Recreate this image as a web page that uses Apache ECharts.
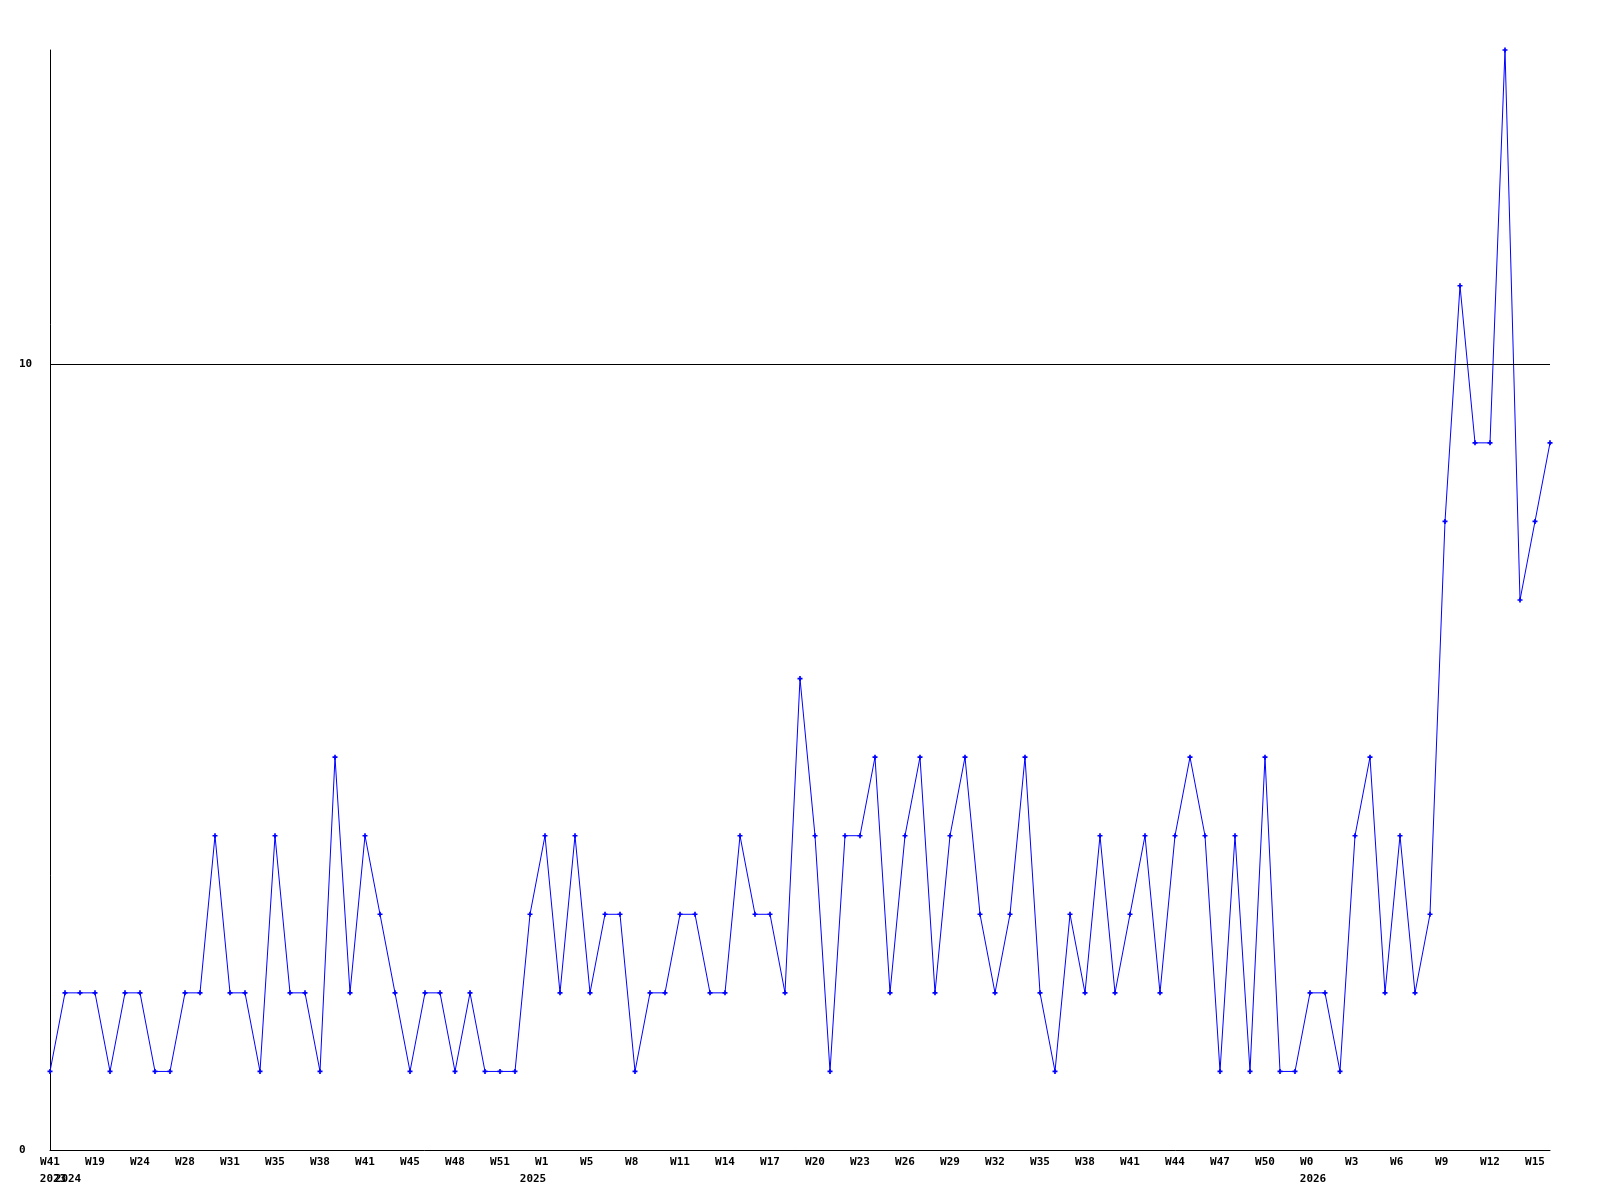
<!DOCTYPE html>
<html>
<head>
<meta charset="utf-8">
<script src="https://cdn.jsdelivr.net/npm/echarts@6/dist/echarts.min.js"></script>
<style>
html,body{margin:0;padding:0;background:#fff;}
#chart{width:1600px;height:1200px;}
</style>
</head>
<body>
<div id="chart"></div>
<script>
// Weekly values, one per point (101 points)
const values = [1,2,2,2,1,2,2,1,1,2,2,4,2,2,1,4,2,2,1,5,
                2,4,3,2,1,2,2,1,2,1,1,1,3,4,2,4,2,3,3,1,
                2,2,3,3,2,2,4,3,3,2,6,4,1,4,4,5,2,4,5,2,
                4,5,3,2,3,5,2,1,3,2,4,2,3,4,2,4,5,4,1,4,
                1,5,1,1,2,2,1,4,5,2,4,2,3,8,11,9,9,14,7,8,9];
// Week tick labels, shown on every third point
const weekLabels = ['W41','W19','W24','W28','W31','W35','W38','W41','W45','W48','W51',
                    'W1','W5','W8','W11','W14','W17','W20','W23','W26','W29','W32','W35',
                    'W38','W41','W44','W47','W50','W0','W3','W6','W9','W12','W15'];
const weekLabelStep = 3;
// Year labels and the point index they sit under
const yearLabels = ['2023','2024','2025','2026'];
const yearLabelIndex = [0,1,32,84];
const yTickLabels = [0, 10];

const categories = values.map((v, i) => String(i));
const font = 'DejaVu Sans Mono';

function weekAt(i){ return i % weekLabelStep === 0 ? (weekLabels[i / weekLabelStep] || '') : ''; }
function yearAt(i){ const k = yearLabelIndex.indexOf(i); return k >= 0 ? yearLabels[k] : ''; }

const txt = {fontFamily: font, fontWeight: 'bold', fontSize: 11, color: '#000', lineHeight: 17};

const chart = echarts.init(document.getElementById('chart'), null, {renderer:'canvas'});
chart.setOption({
  animation: false,
  backgroundColor: '#ffffff',
  grid: {left: 50, right: 50, top: 50, bottom: 50, containLabel: false},
  xAxis: [{
    type: 'category',
    data: categories,
    boundaryGap: false,
    axisLine: {show: true, lineStyle: {color: '#000', width: 1}},
    axisTick: {show: false},
    splitLine: {show: false},
    axisLabel: {
      interval: function(i){ return weekAt(i) !== ''; },
      showMinLabel: true,
      showMaxLabel: true,
      hideOverlap: false,
      margin: 4,
      align: 'center',
      formatter: function(v, i){
        let w = weekAt(i); while (w.length < 3) w += ' ';
        const y = yearAt(i) || ' ';
        return '{w|' + w + '}\n{y|' + y + '}';
      },
      rich: {
        w: Object.assign({}, txt),
        y: Object.assign({padding: [0,0,0,6]}, txt)
      }
    }
  }, {
    type: 'category',
    data: categories,
    boundaryGap: false,
    position: 'bottom',
    gridIndex: 0,
    axisLine: {show: false},
    axisTick: {show: false},
    splitLine: {show: false},
    axisLabel: {
      interval: function(i){ return weekAt(i) === '' && yearAt(i) !== ''; },
      showMinLabel: true,
      showMaxLabel: true,
      hideOverlap: false,
      margin: 21,
      align: 'center',
      formatter: function(v, i){ return '{y|' + yearAt(i) + '}'; },
      rich: { y: Object.assign({padding: [0,0,0,6]}, txt) }
    }
  }],
  yAxis: {
    type: 'value',
    min: 0,
    max: 14,
    interval: 10,
    axisLine: {show: true, lineStyle: {color: '#000', width: 1}},
    axisTick: {show: false},
    splitLine: {show: false},
    axisLabel: {
      margin: 31,
      align: 'left',
      showMinLabel: true,
      fontFamily: font, fontWeight: 'bold', fontSize: 11, color: '#000',
      formatter: function(v){ return yTickLabels.indexOf(v) >= 0 ? String(v) : ''; }
    }
  },
  series: [{
    type: 'line',
    xAxisIndex: 0,
    data: values,
    symbol: 'path://M1,0H2V1H3V2H2V3H1V2H0V1H1Z',
    symbolSize: 5,
    showSymbol: true,
    lineStyle: {color: '#0000ff', width: 1},
    itemStyle: {color: '#0000ff'},
    markLine: {
      silent: true,
      symbol: ['none','none'],
      label: {show: false},
      lineStyle: {color: '#000', width: 1, type: 'solid'},
      data: [{yAxis: yTickLabels[1]}]
    },
    z: 3
  }]
});
</script>
</body>
</html>
